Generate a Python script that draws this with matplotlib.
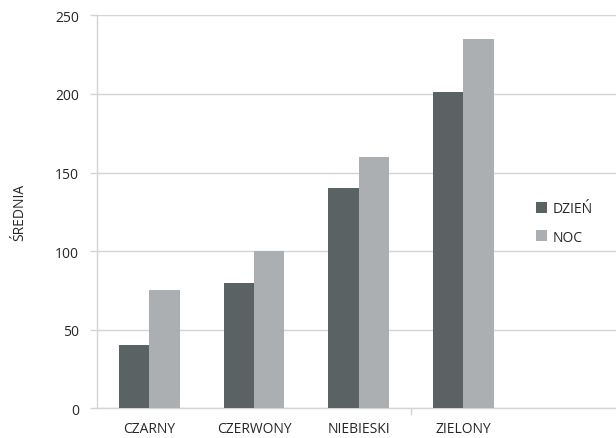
import numpy as np
import matplotlib
matplotlib.use("Agg")
import matplotlib.pyplot as plt
from matplotlib.patches import Patch

plt.rcParams['font.family'] = ['Open Sans', 'DejaVu Sans']

categories = ["CZARNY", "CZERWONY", "NIEBIESKI", "ZIELONY"]
series_names = ["DZIEŃ", "NOC"]
dzien = [40, 80, 140, 201]
noc = [75, 100, 160, 235]
y_ticks = [0, 50, 100, 150, 200, 250]
y_label = "ŚREDNIA"

dark = "#5b6264"
light = "#abafb1"
grid_c = "#d4d4d4"
text_c = "#262626"

fig = plt.figure(figsize=(6.16, 4.39), dpi=100)
ax = fig.add_axes([97/616, 1 - 409.3/439, 1 - 97/616, (409.3 - 16.3)/439])

x = np.arange(len(categories))
w = 0.29
ax.bar(x - w/2, dzien, width=w, color=dark, zorder=3)
ax.bar(x + w/2, noc, width=w, color=light, zorder=3)

ax.set_xlim(-0.5, 4.46)
ax.set_ylim(0, 250)
ax.set_yticks(y_ticks)
ax.set_yticklabels([str(v) for v in y_ticks], fontsize=10, color=text_c)
ax.yaxis.grid(True, color=grid_c, linewidth=1.0, zorder=0)
ax.set_axisbelow(True)

ax.set_xticks(x)
ax.set_xticklabels(categories, fontsize=10, color=text_c)
ax.tick_params(axis='x', length=0, pad=9)
ax.set_xticks([2.5], minor=True)
ax.tick_params(axis='x', which='minor', length=5, direction='out', color=grid_c, width=1)
ax.tick_params(axis='y', length=5, direction='out', color=grid_c, width=1, pad=8)

for side in ['top', 'right']:
    ax.spines[side].set_visible(False)
for side in ['left', 'bottom']:
    ax.spines[side].set_color(grid_c)
    ax.spines[side].set_linewidth(1.0)

ax.set_ylabel(y_label, fontsize=10, color=text_c, labelpad=20)

handles = [Patch(facecolor=dark, edgecolor='none'), Patch(facecolor=light, edgecolor='none')]
leg = fig.legend(handles, series_names, loc='center left', bbox_to_anchor=(532/616, 1 - 224/439),
                 frameon=True, fontsize=10, handlelength=0.8, handleheight=0.8,
                 handletextpad=0.4, labelspacing=0.95, borderpad=0.3, borderaxespad=0)
leg.get_frame().set_facecolor('white')
leg.get_frame().set_edgecolor('none')
for t in leg.get_texts():
    t.set_color(text_c)

fig.savefig("out.png", dpi=100)
